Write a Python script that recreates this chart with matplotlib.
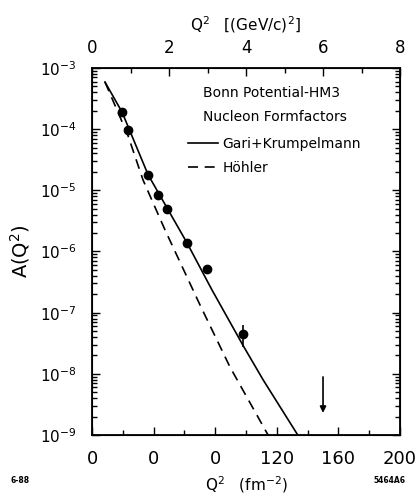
"""
Deuteron structure function A(Q^2) with Bonn potential predictions.
"""

import matplotlib
matplotlib.use("Agg")

import matplotlib.pyplot as plt
from matplotlib.ticker import (
    FixedLocator, FixedFormatter, LogLocator, NullFormatter, MultipleLocator
)


# =====================================================
# Data
# =====================================================

# measured points, Q^2 in fm^-2
Q2_DATA = [19.5, 23.6, 36.6, 43.1, 48.5, 61.5, 74.5, 98.1]
A_DATA = [1.9e-4, 9.7e-5, 1.8e-5, 8.3e-6, 4.9e-6, 1.36e-6, 5.1e-7, 4.4e-8]

# the one point with a visible error bar
ERR_Q2 = [98.1]
ERR_A = [4.4e-8]
ERR_LOW = [2.7e-8]
ERR_HIGH = [6.3e-8]

# upper limit arrow
LIMIT_Q2 = [150.0]
LIMIT_TOP = [8.9e-9]
LIMIT_TIP = [2.3e-9]

# Gari + Krumpelmann form factors (solid)
GK_Q2 = [8.4, 19.5, 36.4, 61.7, 77.9, 98.1, 111.2, 133.6]
GK_A = [5.9e-4, 1.9e-4, 1.8e-5, 1.38e-6, 2.35e-7, 2.9e-8, 7.9e-9, 1.0e-9]

# Hoehler form factors (dashed)
H_Q2 = [8.4, 23.4, 33.1, 47.4, 70.1, 89.6, 114.3]
H_A = [5.9e-4, 7.8e-5, 1.48e-5, 2.25e-6, 1.34e-7, 1.29e-8, 1.0e-9]

# axis ticks
BOTTOM_TICKS = [0, 40, 80, 120, 160, 200]
BOTTOM_LABELS = ["0", "0", "0", "120", "160", "200"]
TOP_TICKS = [0, 2, 4, 6, 8]


# =====================================================
# Plot
# =====================================================

def make_plot():

    fig = plt.figure(figsize=(4.16, 4.98), dpi=100)

    ax = fig.add_axes([0.2212, 0.1265, 0.7404, 0.737])

    ax.plot(GK_Q2, GK_A, color="black", lw=1.2, label="Gari+Krumpelmann")
    ax.plot(H_Q2, H_A, color="black", lw=1.2, ls=(0, (6, 4)), label="Höhler")

    ax.plot(Q2_DATA, A_DATA, "o", color="black", ms=6)

    lo = [a - l for a, l in zip(ERR_A, ERR_LOW)]
    hi = [h - a for a, h in zip(ERR_A, ERR_HIGH)]
    ax.errorbar(ERR_Q2, ERR_A, yerr=[lo, hi], fmt="none", ecolor="black",
                elinewidth=1.2, capsize=0)

    for x, top, tip in zip(LIMIT_Q2, LIMIT_TOP, LIMIT_TIP):
        ax.annotate(
            "", xy=(x, tip), xytext=(x, top),
            arrowprops=dict(arrowstyle="-|>", color="black", lw=1.2,
                            mutation_scale=9, shrinkA=0, shrinkB=0)
        )

    ax.set_yscale("log")
    ax.set_xlim(0, 200)
    ax.set_ylim(1e-9, 1e-3)

    ax.xaxis.set_major_locator(FixedLocator(BOTTOM_TICKS))
    ax.xaxis.set_major_formatter(FixedFormatter(BOTTOM_LABELS))
    ax.xaxis.set_minor_locator(MultipleLocator(20))

    ax.yaxis.set_major_locator(LogLocator(base=10, numticks=10))
    ax.yaxis.set_minor_locator(LogLocator(base=10, subs=range(2, 10), numticks=20))
    ax.yaxis.set_minor_formatter(NullFormatter())

    ax.tick_params(axis="both", which="both", direction="in",
                   right=True, top=False, width=1.0)
    ax.tick_params(axis="both", which="major", length=6)
    ax.tick_params(axis="both", which="minor", length=3.5)
    ax.tick_params(axis="x", labelsize=13, pad=11)
    ax.tick_params(axis="y", labelsize=11, pad=11)

    ax.set_xlabel("Q$^2$   (fm$^{-2}$)", fontsize=11, labelpad=4)
    ax.set_ylabel("A(Q$^2$)", fontsize=14, labelpad=6)

    for s in ax.spines.values():
        s.set_linewidth(1.3)

    top = ax.twiny()
    top.set_xlim(0, 8)
    top.xaxis.set_major_locator(FixedLocator(TOP_TICKS))
    top.xaxis.set_minor_locator(MultipleLocator(1))
    top.tick_params(axis="x", which="both", direction="in", width=1.0)
    top.tick_params(axis="x", which="major", length=6, labelsize=12, pad=8)
    top.tick_params(axis="x", which="minor", length=3.5)
    top.set_xlabel("Q$^2$   [(GeV/c)$^2$]", fontsize=11, labelpad=6)

    ax.text(0.36, 0.932, "Bonn Potential-HM3", transform=ax.transAxes,
            fontsize=10, va="center", ha="left")
    ax.text(0.36, 0.866, "Nucleon Formfactors", transform=ax.transAxes,
            fontsize=10, va="center", ha="left")

    ax.legend(loc="upper left", bbox_to_anchor=(0.31, 0.813),
              frameon=False, fontsize=10, handlelength=2.2,
              handletextpad=0.3, labelspacing=0.75, borderpad=0,
              borderaxespad=0)

    fig.text(0.025, 0.03, "6-88", fontsize=5.5, weight="bold")
    fig.text(0.975, 0.03, "5464A6", fontsize=5.5, weight="bold", ha="right")

    fig.savefig("out.png", dpi=100)

    plt.close(fig)


# =====================================================
# Main
# =====================================================

if __name__ == "__main__":

    make_plot()
